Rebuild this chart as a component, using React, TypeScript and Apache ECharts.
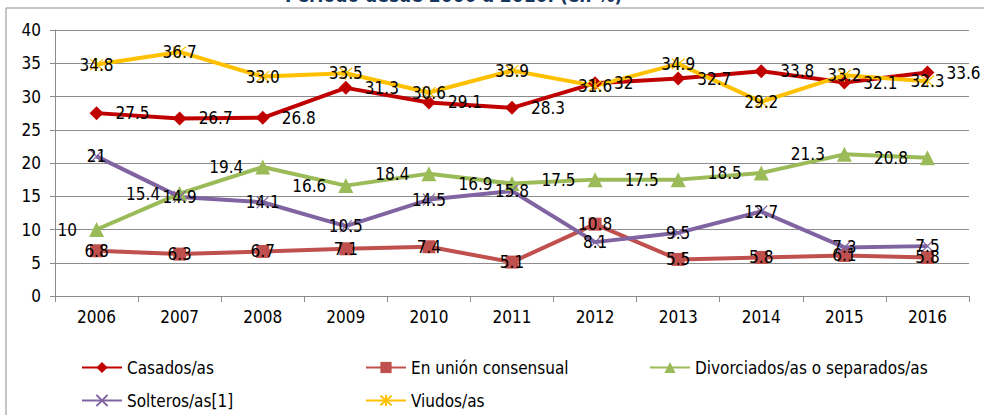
import React, { useEffect, useRef } from "react";
import * as echarts from "echarts";

const years = ["2006", "2007", "2008", "2009", "2010", "2011", "2012", "2013", "2014", "2015", "2016"];
const casados = [27.5, 26.7, 26.8, 31.3, 29.1, 28.3, 32, 32.7, 33.8, 32.1, 33.6];
const union = [6.8, 6.3, 6.7, 7.1, 7.4, 5.1, 10.8, 5.5, 5.8, 6.1, 5.8];
const divorciados = [10, 15.4, 19.4, 16.6, 18.4, 16.9, 17.5, 17.5, 18.5, 21.3, 20.8];
const solteros = [21, 14.9, 14.1, 10.5, 14.5, 15.8, 8.1, 9.5, 12.7, 7.3, 7.5];
const viudos = [34.8, 36.7, 33.0, 33.5, 30.6, 33.9, 31.6, 34.9, 29.2, 33.2, 32.3];
const names = ["Casados/as", "En unión consensual", "Divorciados/as o separados/as", "Solteros/as[1]", "Viudos/as"];
const titleText = "Período desde 2006 a 2016. (en %)";

const FONT = "'Liberation Sans Narrow', 'DejaVu Sans Condensed', 'Liberation Sans', sans-serif";
const FS = 17;

export default function App() {
  const ref = useRef<HTMLDivElement>(null);
  useEffect(() => {
    document.body.style.margin = "0";
    const chart = echarts.init(ref.current!, null, { renderer: "svg" });
    const lbl = (position: string, distance: number, fmt?: (p: any) => string) => ({
      show: true,
      position,
      distance,
      color: "#000",
      fontFamily: FONT,
      fontSize: FS,
      formatter: fmt || ((p: any) => String(p.value)),
    });
    const xMark = "path://M0,0L10,10M10,0L0,10";
    const star = "path://M0,0L10,10M10,0L0,10M5,-1L5,11";
    const legendBase = {
      orient: "horizontal",
      itemWidth: 40,
      itemHeight: 14,
      textStyle: { fontFamily: FONT, fontSize: FS, color: "#000" },
    };
    chart.setOption({
      animation: false,
      textStyle: { fontFamily: FONT },
      grid: { left: 55, right: 15, top: 30, bottom: 119 },
      graphic: [
        {
          type: "rect",
          shape: { x: 6, y: 8, width: 1000, height: 430 },
          style: { fill: "none", stroke: "#8c8c8c", lineWidth: 1 },
          silent: true,
        },
        {
          type: "text",
          left: 285,
          top: -15,
          style: { text: titleText, fill: "#17365D", font: `bold 19px ${FONT}` },
        },
      ],
      legend: [
        { ...legendBase, left: 76, top: 354, data: [names[0]] },
        { ...legendBase, left: 360, top: 354, data: [names[1]] },
        { ...legendBase, left: 644, top: 354, data: [names[2]] },
        { ...legendBase, left: 76, top: 387, data: [names[3]] },
        { ...legendBase, left: 360, top: 387, data: [names[4]] },
      ],
      xAxis: {
        type: "category",
        data: years,
        boundaryGap: true,
        axisLine: { lineStyle: { color: "#8c8c8c", width: 1 } },
        axisTick: { show: true, length: 6, lineStyle: { color: "#8c8c8c" } },
        axisLabel: { color: "#000", fontFamily: FONT, fontSize: FS, margin: 12 },
      },
      yAxis: {
        type: "value",
        min: 0,
        max: 40,
        interval: 5,
        axisLine: { show: true, lineStyle: { color: "#8c8c8c", width: 1 } },
        axisTick: { show: true, length: 5, lineStyle: { color: "#8c8c8c" } },
        axisLabel: { color: "#000", fontFamily: FONT, fontSize: FS, margin: 14 },
        splitLine: { lineStyle: { color: "#8c8c8c", width: 1 } },
      },
      series: [
        {
          name: names[0],
          type: "line",
          data: casados,
          symbol: "diamond",
          symbolSize: 14,
          itemStyle: { color: "#C00000" },
          lineStyle: { color: "#C00000", width: 4 },
          label: lbl("right", 12),
        },
        {
          name: names[1],
          type: "line",
          data: union,
          symbol: "rect",
          symbolSize: 13,
          itemStyle: { color: "#C0504D" },
          lineStyle: { color: "#C0504D", width: 4 },
          label: lbl("inside", 0),
        },
        {
          name: names[2],
          type: "line",
          data: divorciados,
          symbol: "triangle",
          symbolSize: 15,
          itemStyle: { color: "#9BBB59" },
          lineStyle: { color: "#9BBB59", width: 4 },
          label: lbl("left", 12),
        },
        {
          name: names[3],
          type: "line",
          data: solteros,
          symbol: xMark,
          symbolSize: 12,
          itemStyle: { color: "#8064A2", borderColor: "#8064A2", borderWidth: 1.2 },
          lineStyle: { color: "#8064A2", width: 4 },
          label: lbl("inside", 0),
        },
        {
          name: names[4],
          type: "line",
          data: viudos,
          symbol: star,
          symbolSize: 13,
          itemStyle: { color: "#FFC000", borderColor: "#FFC000", borderWidth: 1.2 },
          lineStyle: { color: "#FFC000", width: 4 },
          label: lbl("inside", 0, (p: any) => Number(p.value).toFixed(1)),
        },
      ],
    });
    return () => chart.dispose();
  }, []);
  return <div ref={ref} style={{ width: 984, height: 415 }} />;
}
